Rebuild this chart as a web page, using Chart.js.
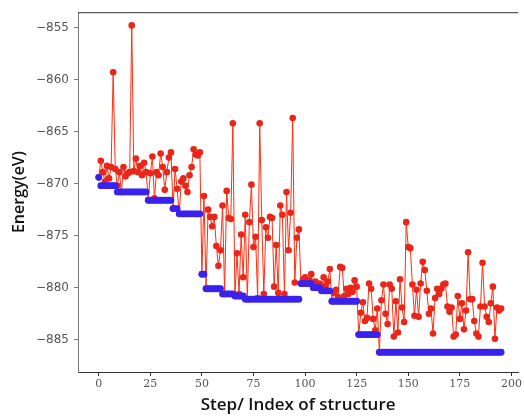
<!DOCTYPE html>
<html>
<head>
<meta charset="utf-8">
<script src="https://cdn.jsdelivr.net/npm/chart.js@4/dist/chart.umd.min.js"></script>
<style>
  html, body { margin: 0; padding: 0; background: #fff; }
  #wrap { width: 524px; height: 419px; }
</style>
</head>
<body>
<div id="wrap"><canvas id="chart" width="524" height="419"></canvas></div>
<script>
// energy of each structure (red)
const energy = [
  -869.4, -867.8, -868.9, -869.8, -868.3, -869.5, -868.4, -859.3, -868.6, -870.2,
  -868.9, -870.8, -868.4, -869.3, -869.0, -868.9, -854.8, -868.8, -867.6, -868.9,
  -868.3, -869.2, -868.0, -868.9, -871.6, -869.0, -867.4, -871.4, -868.9, -869.2,
  -867.1, -868.4, -870.6, -868.9, -867.5, -867.0, -872.4, -868.6, -870.5, -872.9,
  -869.8, -869.5, -870.2, -870.8, -869.2, -868.4, -866.7, -867.2, -867.3, -867.0,
  -878.7, -871.2, -880.1, -872.5, -873.2, -874.1, -873.2, -876.0, -877.9, -876.4,
  -872.1, -880.6, -870.7, -873.3, -873.4, -864.2, -880.8, -876.7, -880.6, -874.9,
  -879.0, -873.0, -881.1, -873.7, -870.1, -876.1, -875.1, -881.0, -864.2, -873.5,
  -880.6, -874.2, -875.2, -873.2, -873.3, -879.9, -875.9, -880.5, -872.1, -873.0,
  -880.6, -870.8, -876.4, -872.8, -863.7, -879.5, -875.2, -874.4, -879.6, -879.2,
  -879.0, -879.5, -879.3, -878.7, -880.0, -879.4, -879.8, -879.6, -880.3, -879.0,
  -879.8, -879.4, -878.2, -881.3, -880.5, -880.2, -880.9, -878.0, -878.1, -880.8,
  -880.1, -880.6, -880.0, -880.4, -879.3, -879.9, -884.5, -882.4, -881.4, -883.2,
  -882.9, -879.6, -880.1, -883.0, -884.1, -882.0, -886.2, -881.2, -879.7, -882.5,
  -883.5, -879.7, -880.1, -884.7, -881.3, -884.3, -879.2, -881.9, -883.3, -873.7,
  -876.1, -876.2, -879.7, -882.7, -880.2, -882.8, -879.6, -877.5, -878.3, -880.3,
  -882.5, -882.0, -884.4, -881.0, -880.1, -880.6, -880.1, -879.7, -879.6, -881.8,
  -882.3, -881.9, -884.7, -884.5, -880.8, -883.0, -881.5, -884.0, -882.2, -876.6,
  -881.1, -881.1, -883.2, -884.4, -884.7, -881.8, -877.6, -881.8, -882.8, -883.3,
  -881.5, -879.9, -884.9, -881.9, -882.2, -882.0
];

// lowest energy so far (blue)
const lowest = [
  -869.4, -870.2, -870.2, -870.2, -870.2, -870.2, -870.2, -870.2, -870.2, -870.8,
  -870.8, -870.8, -870.8, -870.8, -870.8, -870.8, -870.8, -870.8, -870.8, -870.8,
  -870.8, -870.8, -870.8, -870.8, -871.6, -871.6, -871.6, -871.6, -871.6, -871.6,
  -871.6, -871.6, -871.6, -871.6, -871.6, -871.6, -872.4, -872.4, -872.4, -872.9,
  -872.9, -872.9, -872.9, -872.9, -872.9, -872.9, -872.9, -872.9, -872.9, -872.9,
  -878.7, -878.7, -880.1, -880.1, -880.1, -880.1, -880.1, -880.1, -880.1, -880.1,
  -880.6, -880.6, -880.6, -880.6, -880.6, -880.6, -880.8, -880.8, -880.8, -880.8,
  -880.8, -881.1, -881.1, -881.1, -881.1, -881.1, -881.1, -881.1, -881.1, -881.1,
  -881.1, -881.1, -881.1, -881.1, -881.1, -881.1, -881.1, -881.1, -881.1, -881.1,
  -881.1, -881.1, -881.1, -881.1, -881.1, -881.1, -881.1, -881.1, -879.6, -879.6,
  -879.6, -879.6, -879.6, -879.6, -880.0, -880.0, -880.0, -880.0, -880.3, -880.3,
  -880.3, -880.3, -880.3, -881.3, -881.3, -881.3, -881.3, -881.3, -881.3, -881.3,
  -881.3, -881.3, -881.3, -881.3, -881.3, -881.3, -884.5, -884.5, -884.5, -884.5,
  -884.5, -884.5, -884.5, -884.5, -884.5, -884.5, -886.2, -886.2, -886.2, -886.2,
  -886.2, -886.2, -886.2, -886.2, -886.2, -886.2, -886.2, -886.2, -886.2, -886.2,
  -886.2, -886.2, -886.2, -886.2, -886.2, -886.2, -886.2, -886.2, -886.2, -886.2,
  -886.2, -886.2, -886.2, -886.2, -886.2, -886.2, -886.2, -886.2, -886.2, -886.2,
  -886.2, -886.2, -886.2, -886.2, -886.2, -886.2, -886.2, -886.2, -886.2, -886.2,
  -886.2, -886.2, -886.2, -886.2, -886.2, -886.2, -886.2, -886.2, -886.2, -886.2,
  -886.2, -886.2, -886.2, -886.2, -886.2, -886.2
];

const steps = energy.map((_, i) => i);
const xTicks = [0, 25, 50, 75, 100, 125, 150, 175, 200];
const yTicks = [-885, -880, -875, -870, -865, -860, -855];

const toXY = arr => arr.map((v, i) => ({ x: steps[i], y: v }));

// top edge of the frame (matplotlib box)
const frame = {
  id: "frame",
  afterDraw(c) {
    const a = c.chartArea, ctx = c.ctx;
    ctx.save();
    ctx.strokeStyle = "#333";
    ctx.lineWidth = 1;
    ctx.beginPath();
    ctx.moveTo(a.left, a.top + 0.5);
    ctx.lineTo(a.right, a.top + 0.5);
    ctx.stroke();
    ctx.restore();
  }
};

new Chart(document.getElementById("chart"), {
  type: "line",
  data: {
    datasets: [
      {
        data: toXY(lowest),
        showLine: false,
        pointRadius: 3.4,
        pointBackgroundColor: "#3a22ee",
        pointBorderColor: "#3a22ee",
        pointBorderWidth: 0
      },
      {
        data: toXY(energy),
        borderColor: "#ff2e10",
        borderWidth: 1,
        pointRadius: 3.3,
        pointBackgroundColor: "#e8261a",
        pointBorderColor: "#e8261a",
        pointBorderWidth: 0,
        tension: 0
      }
    ]
  },
  options: {
    responsive: false,
    animation: false,
    layout: { padding: { left: 0, right: 0, top: 8, bottom: 0 } },
    plugins: { legend: { display: false }, tooltip: { enabled: false } },
    scales: {
      x: {
        type: "linear",
        min: -10.05,
        max: 203.3,
        afterBuildTicks: s => { s.ticks = xTicks.map(v => ({ value: v })); },
        afterFit: s => { s.height = 47; },
        grid: { drawOnChartArea: false, tickLength: 4, color: "#333" },
        border: { color: "#333", width: 1 },
        ticks: {
          autoSkip: false,
          maxRotation: 0,
          padding: 2,
          color: "#555",
          font: { family: "DejaVu Serif", size: 11 }
        },
        title: {
          display: true,
          text: "Step/ Index of structure",
          color: "#111",
          font: { family: "Open Sans", size: 17, weight: "600" },
          padding: { top: 0, bottom: 4 }
        }
      },
      y: {
        min: -888.1,
        max: -853.53,
        afterBuildTicks: s => { s.ticks = yTicks.map(v => ({ value: v })); },
        afterFit: s => { s.width = 78; },
        grid: { drawOnChartArea: false, tickLength: 4, color: "#777" },
        border: { color: "#777", width: 1 },
        ticks: {
          padding: 5,
          color: "#555",
          font: { family: "DejaVu Sans", size: 12 },
          callback: v => "\u2212" + Math.abs(v)
        },
        title: {
          display: true,
          text: "Energy(eV)",
          color: "#111",
          font: { family: "Open Sans", size: 16, weight: "600" },
          padding: { top: 10, bottom: 0 }
        }
      }
    }
  },
  plugins: [frame]
});
</script>
</body>
</html>
